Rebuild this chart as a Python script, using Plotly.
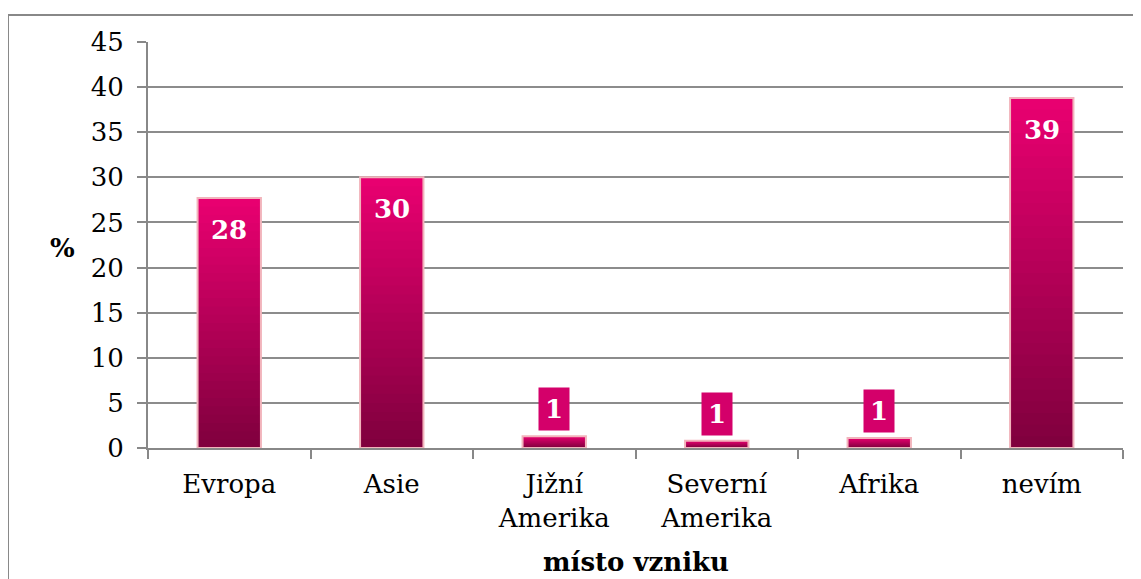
import plotly.graph_objects as go

categories = ["Evropa", "Asie", "Jižní<br>Amerika", "Severní<br>Amerika", "Afrika", "nevím"]
values = [27.7, 30.0, 1.3, 0.8, 1.1, 38.8]
labels = ["28", "30", "1", "1", "1", "39"]
y_ticks = [0, 5, 10, 15, 20, 25, 30, 35, 40, 45]

FONT = "DejaVu Serif"
SIZE = 26
top_rgb = (232, 0, 112)
bot_rgb = (128, 0, 62)
N = 30

fig = go.Figure()
for k in range(N):
    frac = k / (N - 1)
    c = tuple(round(top_rgb[i] + (bot_rgb[i] - top_rgb[i]) * frac) for i in range(3))
    fig.add_trace(go.Bar(
        x=categories, y=[v * (N - k) / N for v in values],
        width=0.39, marker=dict(color="rgb(%d,%d,%d)" % c, line=dict(width=0)),
        hoverinfo="skip", showlegend=False))
fig.add_trace(go.Bar(
    x=categories, y=values, width=0.39,
    marker=dict(color="rgba(0,0,0,0)", line=dict(color="#f2b4bc", width=2)),
    showlegend=False, hoverinfo="skip"))

for cat, v, lab in zip(categories, values, labels):
    inside = v > 5
    fig.add_annotation(
        x=cat, y=v, text="<b>%s</b>" % lab, showarrow=False,
        font=dict(family=FONT, size=SIZE, color="white"),
        bgcolor="#d4006a" if not inside else "rgba(0,0,0,0)",
        borderpad=6,
        xanchor="center",
        yanchor="top" if inside else "bottom",
        yshift=-10 if inside else 5)

fig.add_annotation(xref="paper", yref="paper", x=-0.0882, y=0.4926, text="<b>%</b>",
                   xanchor="center", yanchor="middle",
                   showarrow=False, font=dict(family=FONT, size=SIZE, color="black"))
fig.add_annotation(xref="paper", yref="paper", x=0.5, y=-0.281, text="<b>místo vzniku</b>",
                   xanchor="center", yanchor="middle",
                   showarrow=False, font=dict(family=FONT, size=SIZE, color="black"))

# outer chart border (cropped)
fig.add_shape(type="line", xref="paper", yref="paper", x0=-0.1436, x1=-0.1436,
              y0=1.0665, y1=-0.4, line=dict(color="#888888", width=2))
fig.add_shape(type="line", xref="paper", yref="paper", x0=-0.1436, x1=1.1,
              y0=1.0665, y1=1.0665, line=dict(color="#888888", width=2))

fig.update_layout(
    width=1141, height=579,
    margin=dict(l=140, r=26, t=34, b=139),
    barmode="overlay", bargap=0.6,
    plot_bgcolor="white", paper_bgcolor="white",
    font=dict(family=FONT, size=SIZE, color="black"),
    xaxis=dict(
        automargin=False,
        showline=True, linecolor="#888888", linewidth=2,
        ticks="outside", tickson="boundaries", ticklen=9, tickcolor="#888888", tickwidth=2,
        ticklabelstandoff=12,
        tickfont=dict(family=FONT, size=SIZE), showgrid=False),
    yaxis=dict(
        automargin=False,
        range=[0, 45], tickvals=y_ticks, ticktext=[str(t) for t in y_ticks],
        showline=True, linecolor="#888888", linewidth=2,
        ticks="outside", ticklen=9, tickcolor="#888888", tickwidth=2,
        ticklabelstandoff=8,
        showgrid=True, gridcolor="#8c8c8c", gridwidth=2, zeroline=False,
        tickfont=dict(family=FONT, size=SIZE)),
)

fig.write_html("out.html")
